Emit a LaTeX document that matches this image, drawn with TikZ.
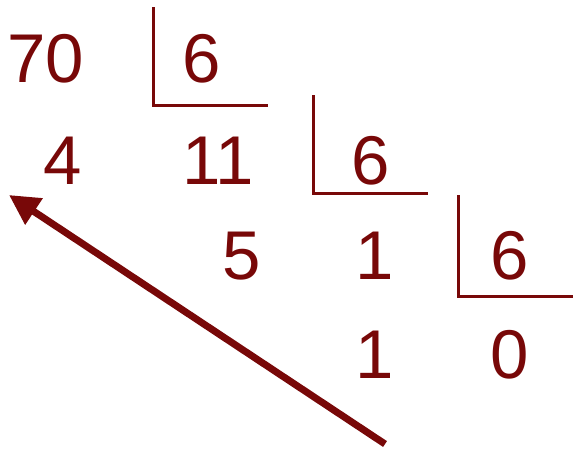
\documentclass[tikz,border=0pt]{standalone}
\usepackage{fontspec}
\setmainfont{Liberation Sans}
\usepackage{tikz}
\usetikzlibrary{arrows.meta}
\definecolor{darkmaroon}{RGB}{120,8,8}
\tikzset{
  digit/.style={
    text=darkmaroon,
    font=\fontsize{69}{80}\selectfont,
    inner sep=0pt
  },
  divline/.style={
    draw=darkmaroon,
    line width=3pt
  },
  backarrow/.style={
    draw=darkmaroon,
    line width=7pt,
    -{Triangle[length=30pt,width=30pt]}
  }
}

\begin{document}
\begin{tikzpicture}[x=1pt,y=-1pt]
  \useasboundingbox (0,0) rectangle (573,459);

  % dividends and quotients
  \node[digit] (n70) at (46,59) {70};
  \node[digit] (d1) at (202,59) {6};
  \node[digit] (r4) at (63,161) {4};
  \node[digit] (q11) at (218,161) {11};
  \node[digit] (d2) at (371,161) {6};
  \node[digit] (r5) at (242,256) {5};
  \node[digit] (q1) at (375,256) {1};
  \node[digit] (d3) at (510,256) {6};
  \node[digit] (r1) at (375,355) {1};
  \node[digit] (q0) at (510,355) {0};

  % division brackets
  \draw[divline] (153,7) |- (268,105);
  \draw[divline] (313,95) |- (428,193);
  \draw[divline] (458,195) |- (573,296);

  % reading direction
  \coordinate (tail) at (385,444);
  \coordinate (tip) at (9,195);
  \draw[backarrow] (tail) -- (tip);
\end{tikzpicture}
\end{document}
